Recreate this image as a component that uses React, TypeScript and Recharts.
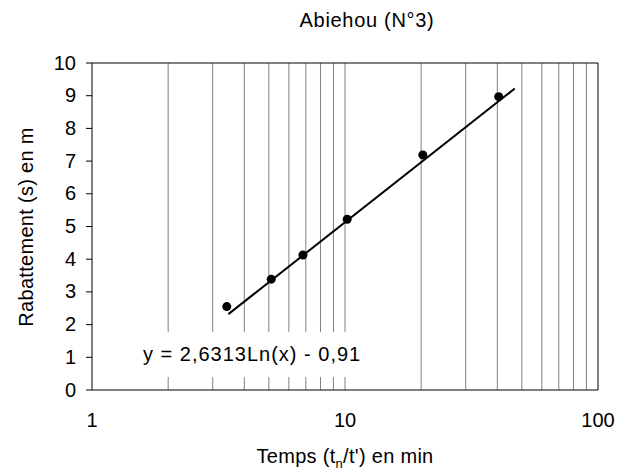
import React from 'react';
import {
  ScatterChart,
  Scatter,
  XAxis,
  YAxis,
  ReferenceLine,
} from 'recharts';

// measured points: time ratio (min) vs drawdown (m)
const tRatio = [3.41, 5.11, 6.82, 10.2, 20.3, 40.5];
const drawdown = [2.55, 3.39, 4.13, 5.22, 7.19, 8.97];

// ends of the Excel log trend line
const trendX = [3.46, 46.9];
const trendY = [2.32, 9.22];

const xTicks = [1, 10, 100];
const yTicks = [0, 1, 2, 3, 4, 5, 6, 7, 8, 9, 10];
const gridX = [2, 3, 4, 5, 6, 7, 8, 9, 10, 20, 30, 40, 50, 60, 70, 80, 90];

const points = tRatio.map((x, i) => ({ x, y: drawdown[i] }));
const trend = trendX.map((x, i) => ({ x, y: trendY[i] }));

const FONT = '"Liberation Sans", Arial, sans-serif';
const W = 629;
const H = 470;
const Y_AXIS_W = 92;
const X_AXIS_H = 80;
const PLOT_BOTTOM = H - X_AXIS_H;

const Dot = (props: any) => {
  const { cx, cy } = props;
  if (cx == null || cy == null) return null;
  return <circle cx={cx} cy={cy} r={4.5} fill="#000" />;
};

const YTick = (props: any) => {
  const { y, payload } = props;
  return (
    <text
      x={Y_AXIS_W - 16}
      y={y + 6.5}
      textAnchor="end"
      fill="#000"
      fontSize={20}
      fontFamily={FONT}
    >
      {payload.value}
    </text>
  );
};

const XTick = (props: any) => {
  const { x, payload } = props;
  return (
    <text
      x={x}
      y={PLOT_BOTTOM + 37}
      textAnchor="middle"
      fill="#000"
      fontSize={20}
      fontFamily={FONT}
    >
      {payload.value}
    </text>
  );
};

export default function App() {
  return (
    <div
      style={{
        position: 'absolute',
        left: 0,
        top: 0,
        width: W,
        height: H,
        background: '#fff',
        fontFamily: FONT,
        color: '#000',
      }}
    >
      <ScatterChart
        width={W}
        height={H}
        margin={{ top: 63, right: 31, bottom: 0, left: 0 }}
      >
        <XAxis
          type="number"
          dataKey="x"
          scale="log"
          domain={[1, 100]}
          ticks={xTicks}
          allowDataOverflow
          height={X_AXIS_H}
          axisLine={{ stroke: '#000', strokeWidth: 1 }}
          tickLine={false}
          tick={<XTick />}
        />
        <YAxis
          type="number"
          dataKey="y"
          domain={[0, 10]}
          ticks={yTicks}
          interval={0}
          width={Y_AXIS_W}
          axisLine={{ stroke: '#000', strokeWidth: 1 }}
          tickLine={{ stroke: '#000', strokeWidth: 1 }}
          tickSize={6}
          tick={<YTick />}
        />
        {gridX.map((v) => (
          <ReferenceLine key={v} x={v} stroke="#808080" strokeWidth={1} />
        ))}
        <ReferenceLine y={10} stroke="#000" strokeWidth={1} />
        <ReferenceLine x={100} stroke="#000" strokeWidth={1} />
        <Scatter
          data={trend}
          line={{ stroke: '#000', strokeWidth: 2 }}
          shape={() => null}
          isAnimationActive={false}
        />
        <Scatter data={points} shape={<Dot />} isAnimationActive={false} />
      </ScatterChart>

      {/* title */}
      <div
        style={{
          position: 'absolute',
          left: 367,
          top: 6.5,
          transform: 'translateX(-50%)',
          fontSize: 20,
          letterSpacing: 0.7,
          lineHeight: '26px',
          whiteSpace: 'nowrap',
        }}
      >
        Abiehou (N°3)
      </div>

      {/* trend equation, Excel draws it on a white box */}
      <div
        style={{
          position: 'absolute',
          left: 137,
          top: 332,
          height: 45,
          padding: '0 6px',
          background: '#fff',
          fontSize: 20,
          letterSpacing: 1,
          lineHeight: '44px',
          whiteSpace: 'nowrap',
        }}
      >
        y = 2,6313Ln(x) - 0,91
      </div>

      {/* x axis title */}
      <div
        style={{
          position: 'absolute',
          left: 345,
          top: 444,
          transform: 'translateX(-50%)',
          fontSize: 20,
          letterSpacing: 0.3,
          whiteSpace: 'nowrap',
          lineHeight: '24px',
        }}
      >
        Temps (t<sub style={{ fontSize: 13, lineHeight: 0 }}>n</sub>/t') en min
      </div>

      {/* y axis title */}
      <div
        style={{
          position: 'absolute',
          left: 26,
          top: 227,
          transform: 'translate(-50%, -50%) rotate(-90deg)',
          fontSize: 20,
          letterSpacing: 0.3,
          whiteSpace: 'nowrap',
        }}
      >
        Rabattement (s) en m
      </div>
    </div>
  );
}
